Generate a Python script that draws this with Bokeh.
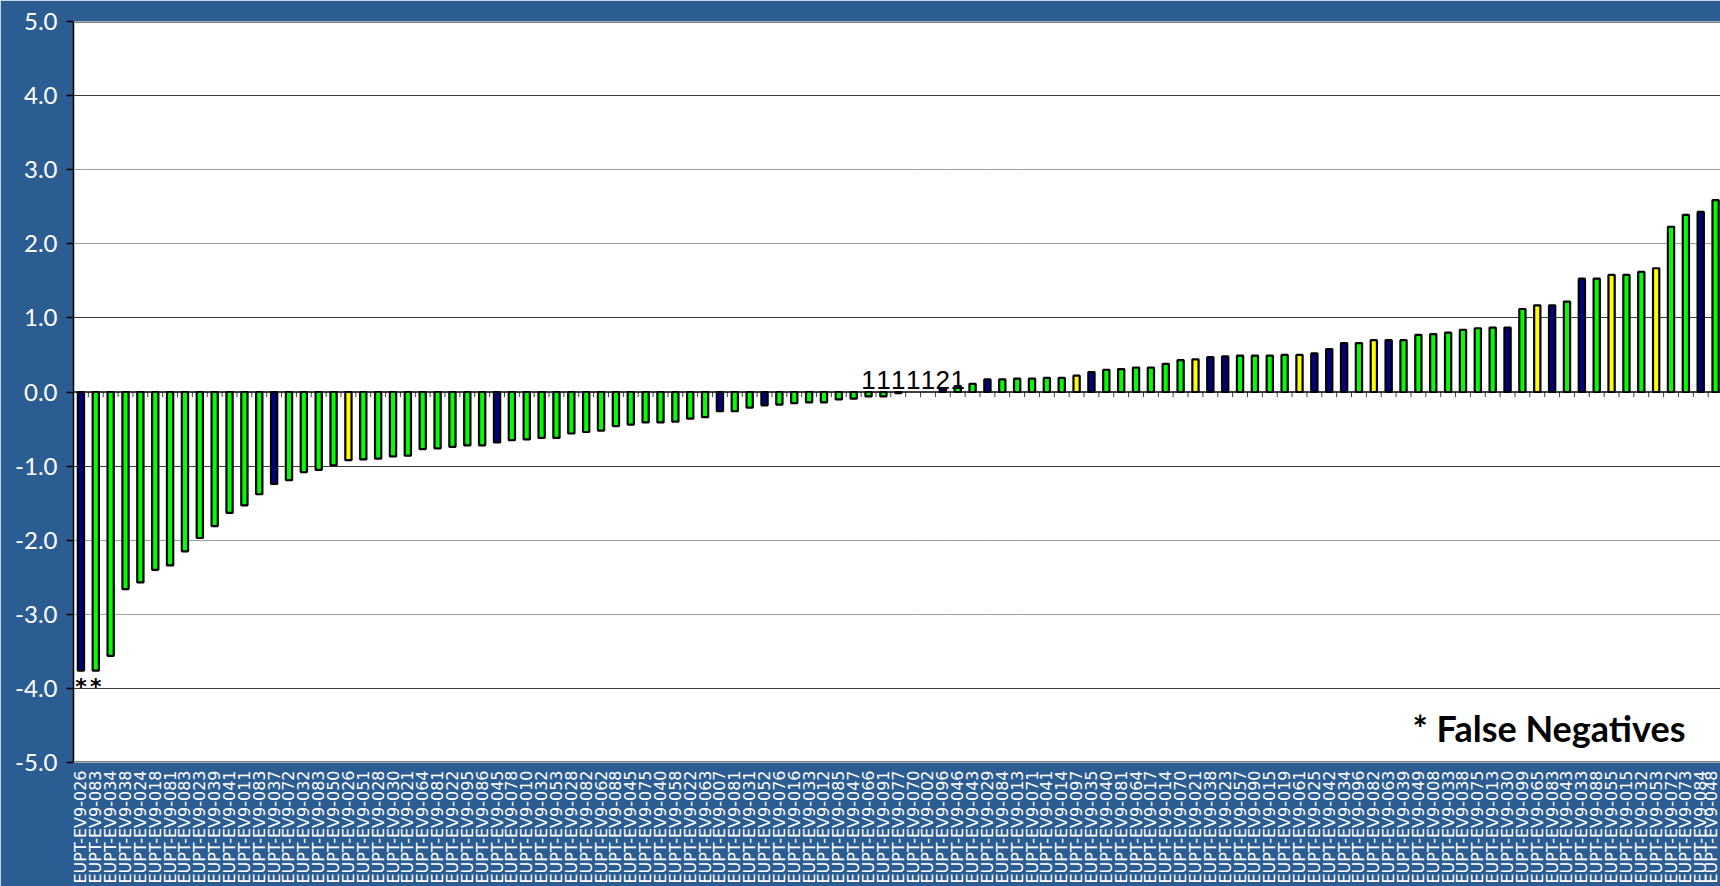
import math
from bokeh.plotting import figure
from bokeh.models import (ColumnDataSource, Range1d, LinearAxis, FixedTicker, Grid,
                          Span, Label, NumeralTickFormatter)
from bokeh.core.properties import value
from bokeh.embed import file_html
from bokeh.resources import INLINE

# ---------------- data ----------------
values = [
    -3.76, -3.76, -3.56, -2.66, -2.57, -2.40, -2.34, -2.15, -1.97, -1.81,
    -1.63, -1.53, -1.38, -1.24, -1.19, -1.08, -1.05, -0.99, -0.92, -0.91,
    -0.90, -0.87, -0.86, -0.77, -0.76, -0.74, -0.72, -0.72, -0.68, -0.65,
    -0.64, -0.62, -0.62, -0.56, -0.54, -0.52, -0.46, -0.44, -0.41, -0.41,
    -0.40, -0.36, -0.34, -0.26, -0.26, -0.21, -0.18, -0.17, -0.15, -0.14,
    -0.14, -0.10, -0.09, -0.06, -0.06, -0.015, 0.0, 0.0, 0.05, 0.08,
    0.11, 0.17, 0.17, 0.18, 0.18, 0.19, 0.19, 0.22, 0.27, 0.30,
    0.31, 0.33, 0.33, 0.38, 0.43, 0.44, 0.47, 0.48, 0.49, 0.49,
    0.49, 0.50, 0.50, 0.52, 0.58, 0.66, 0.66, 0.70, 0.70, 0.70,
    0.77, 0.78, 0.80, 0.84, 0.86, 0.87, 0.87, 1.12, 1.17, 1.17,
    1.22, 1.53, 1.53, 1.58, 1.58, 1.62, 1.67, 2.23, 2.39, 2.43,
    2.59,
]
groups = [
    "B", "G", "G", "G", "G", "G", "G", "G", "G", "G",
    "G", "G", "G", "B", "G", "G", "G", "G", "Y", "G",
    "G", "G", "G", "G", "G", "G", "G", "G", "B", "G",
    "G", "G", "G", "G", "G", "G", "G", "G", "G", "G",
    "G", "G", "G", "B", "G", "G", "B", "G", "G", "G",
    "G", "G", "G", "G", "G", "B", "G", "G", "B", "G",
    "G", "B", "G", "G", "G", "G", "G", "Y", "B", "G",
    "G", "G", "G", "G", "G", "Y", "B", "B", "G", "G",
    "G", "G", "Y", "B", "B", "B", "G", "Y", "B", "G",
    "G", "G", "G", "G", "G", "G", "B", "G", "Y", "B",
    "G", "B", "G", "Y", "G", "G", "Y", "G", "G", "B",
    "G",
]
label_nums = [
    "026", "083", "034", "038", "024", "018", "081", "083", "023", "039",
    "041", "011", "083", "037", "072", "032", "083", "050", "026", "051",
    "028", "030", "021", "064", "081", "022", "095", "086", "045", "078",
    "010", "032", "053", "028", "082", "062", "088", "045", "075", "040",
    "058", "022", "063", "007", "081", "031", "052", "076", "016", "033",
    "012", "085", "047", "066", "091", "077", "070", "002", "096", "046",
    "043", "029", "084", "013", "071", "041", "014", "097", "035", "040",
    "081", "064", "017", "014", "070", "021", "038", "023", "057", "090",
    "015", "019", "061", "025", "042", "034", "096", "082", "063", "039",
    "049", "008", "033", "038", "075", "013", "030", "099", "065", "083",
    "043", "033", "088", "055", "015", "032", "053", "072", "073", "084",
    "048",
]
label_prefix = "EUPT-EV9-"
note_idx = [53, 54, 55, 56, 57, 58, 59]
note_text = ["1", "1", "1", "1", "1", "2", "1"]
false_neg_idx = [0, 1]
legend_note = "* False Negatives"

group_colors = {"B": "#000080", "G": "#00ff00", "Y": "#ffff00"}

# ---------------- figure ----------------
n = len(values)
BG = "#2c5d92"

p = figure(width=1720, height=886, output_backend="svg", toolbar_location=None,
           x_range=Range1d(-0.5, 110.33), y_range=Range1d(-5, 5),
           x_axis_location=None, y_axis_location=None,
           min_border_left=73, min_border_right=0, min_border_top=21,
           min_border_bottom=123)
p.border_fill_color = BG
p.background_fill_color = "white"
p.outline_line_color = None
p.grid.visible = False

# grid lines
g_solid = Grid(dimension=1, ticker=FixedTicker(ticks=[-4, -1, 1, 4]),
               grid_line_color="#3a3a3a", grid_line_width=1.2)
g_dot = Grid(dimension=1, ticker=FixedTicker(ticks=[-3, -2, 2, 3]),
             grid_line_color="#404040", grid_line_width=1.0, grid_line_dash="1 1")
p.add_layout(g_solid)
p.add_layout(g_dot)

# frame top / bottom borders
p.add_layout(Span(location=5, dimension="width", line_color="#808080", line_width=3))
p.add_layout(Span(location=-5, dimension="width", line_color="#808080", line_width=3))

# bars
bx = [i for i in range(n) if values[i] != 0]
src = ColumnDataSource(dict(
    x=bx,
    top=[values[i] for i in bx],
    color=[group_colors[groups[i]] for i in bx],
))
p.vbar(x="x", top="top", bottom=0, width=0.42, source=src,
       fill_color="color", line_color="black", line_width=2.2)

# zero line and its category tick marks
p.add_layout(Span(location=0, dimension="width", line_color="black", line_width=1.5))
tick_x = [i - 0.5 for i in range(1, n + 1)]
p.segment(x0=tick_x, y0=[0] * n, x1=tick_x, y1=[-0.07] * n,
          line_color="#444444", line_width=1)

# y axis
yaxis = LinearAxis(ticker=FixedTicker(ticks=list(range(-5, 6))),
                   formatter=NumeralTickFormatter(format="0.0"),
                   major_label_text_color="white",
                   major_label_text_font="Lato",
                   major_label_text_font_size="24px",
                   major_label_standoff=9,
                   major_tick_out=7, major_tick_in=0,
                   major_tick_line_color="black", major_tick_line_width=1.5,
                   minor_tick_line_color=None,
                   axis_line_color="black", axis_line_width=1.5)
p.add_layout(yaxis, "left")

# category axis (rotated labels under the frame)
xaxis = LinearAxis(ticker=FixedTicker(ticks=list(range(n))),
                   major_label_overrides={i: label_prefix + s for i, s in enumerate(label_nums)},
                   major_label_orientation=math.pi / 2,
                   major_label_text_color="white",
                   major_label_text_font="DejaVu Sans",
                   major_label_text_font_size="16px",
                   major_label_standoff=2,
                   major_tick_line_color=None, minor_tick_line_color=None,
                   axis_line_color=None)
p.add_layout(xaxis, "below")

# small count labels near zero
p.text(x=note_idx, y=[0.165] * len(note_idx), text=note_text,
       text_font=value("Liberation Sans"), text_font_size="26px",
       text_color="black", text_align="center", text_baseline="alphabetic")

# false-negative asterisks
p.text(x=false_neg_idx, y=[-3.80] * len(false_neg_idx), text=["*"] * len(false_neg_idx),
       text_font=value("DejaVu Sans"), text_font_size="22px", text_font_style="bold",
       text_color="black", text_align="center", text_baseline="top")

p.add_layout(Label(x=89.6, y=-4.54, text=legend_note, text_font="Lato",
                   text_font_style="bold", text_font_size="36px",
                   text_color="black", text_baseline="alphabetic"))

open("out.html", "w").write(file_html(p, INLINE))
